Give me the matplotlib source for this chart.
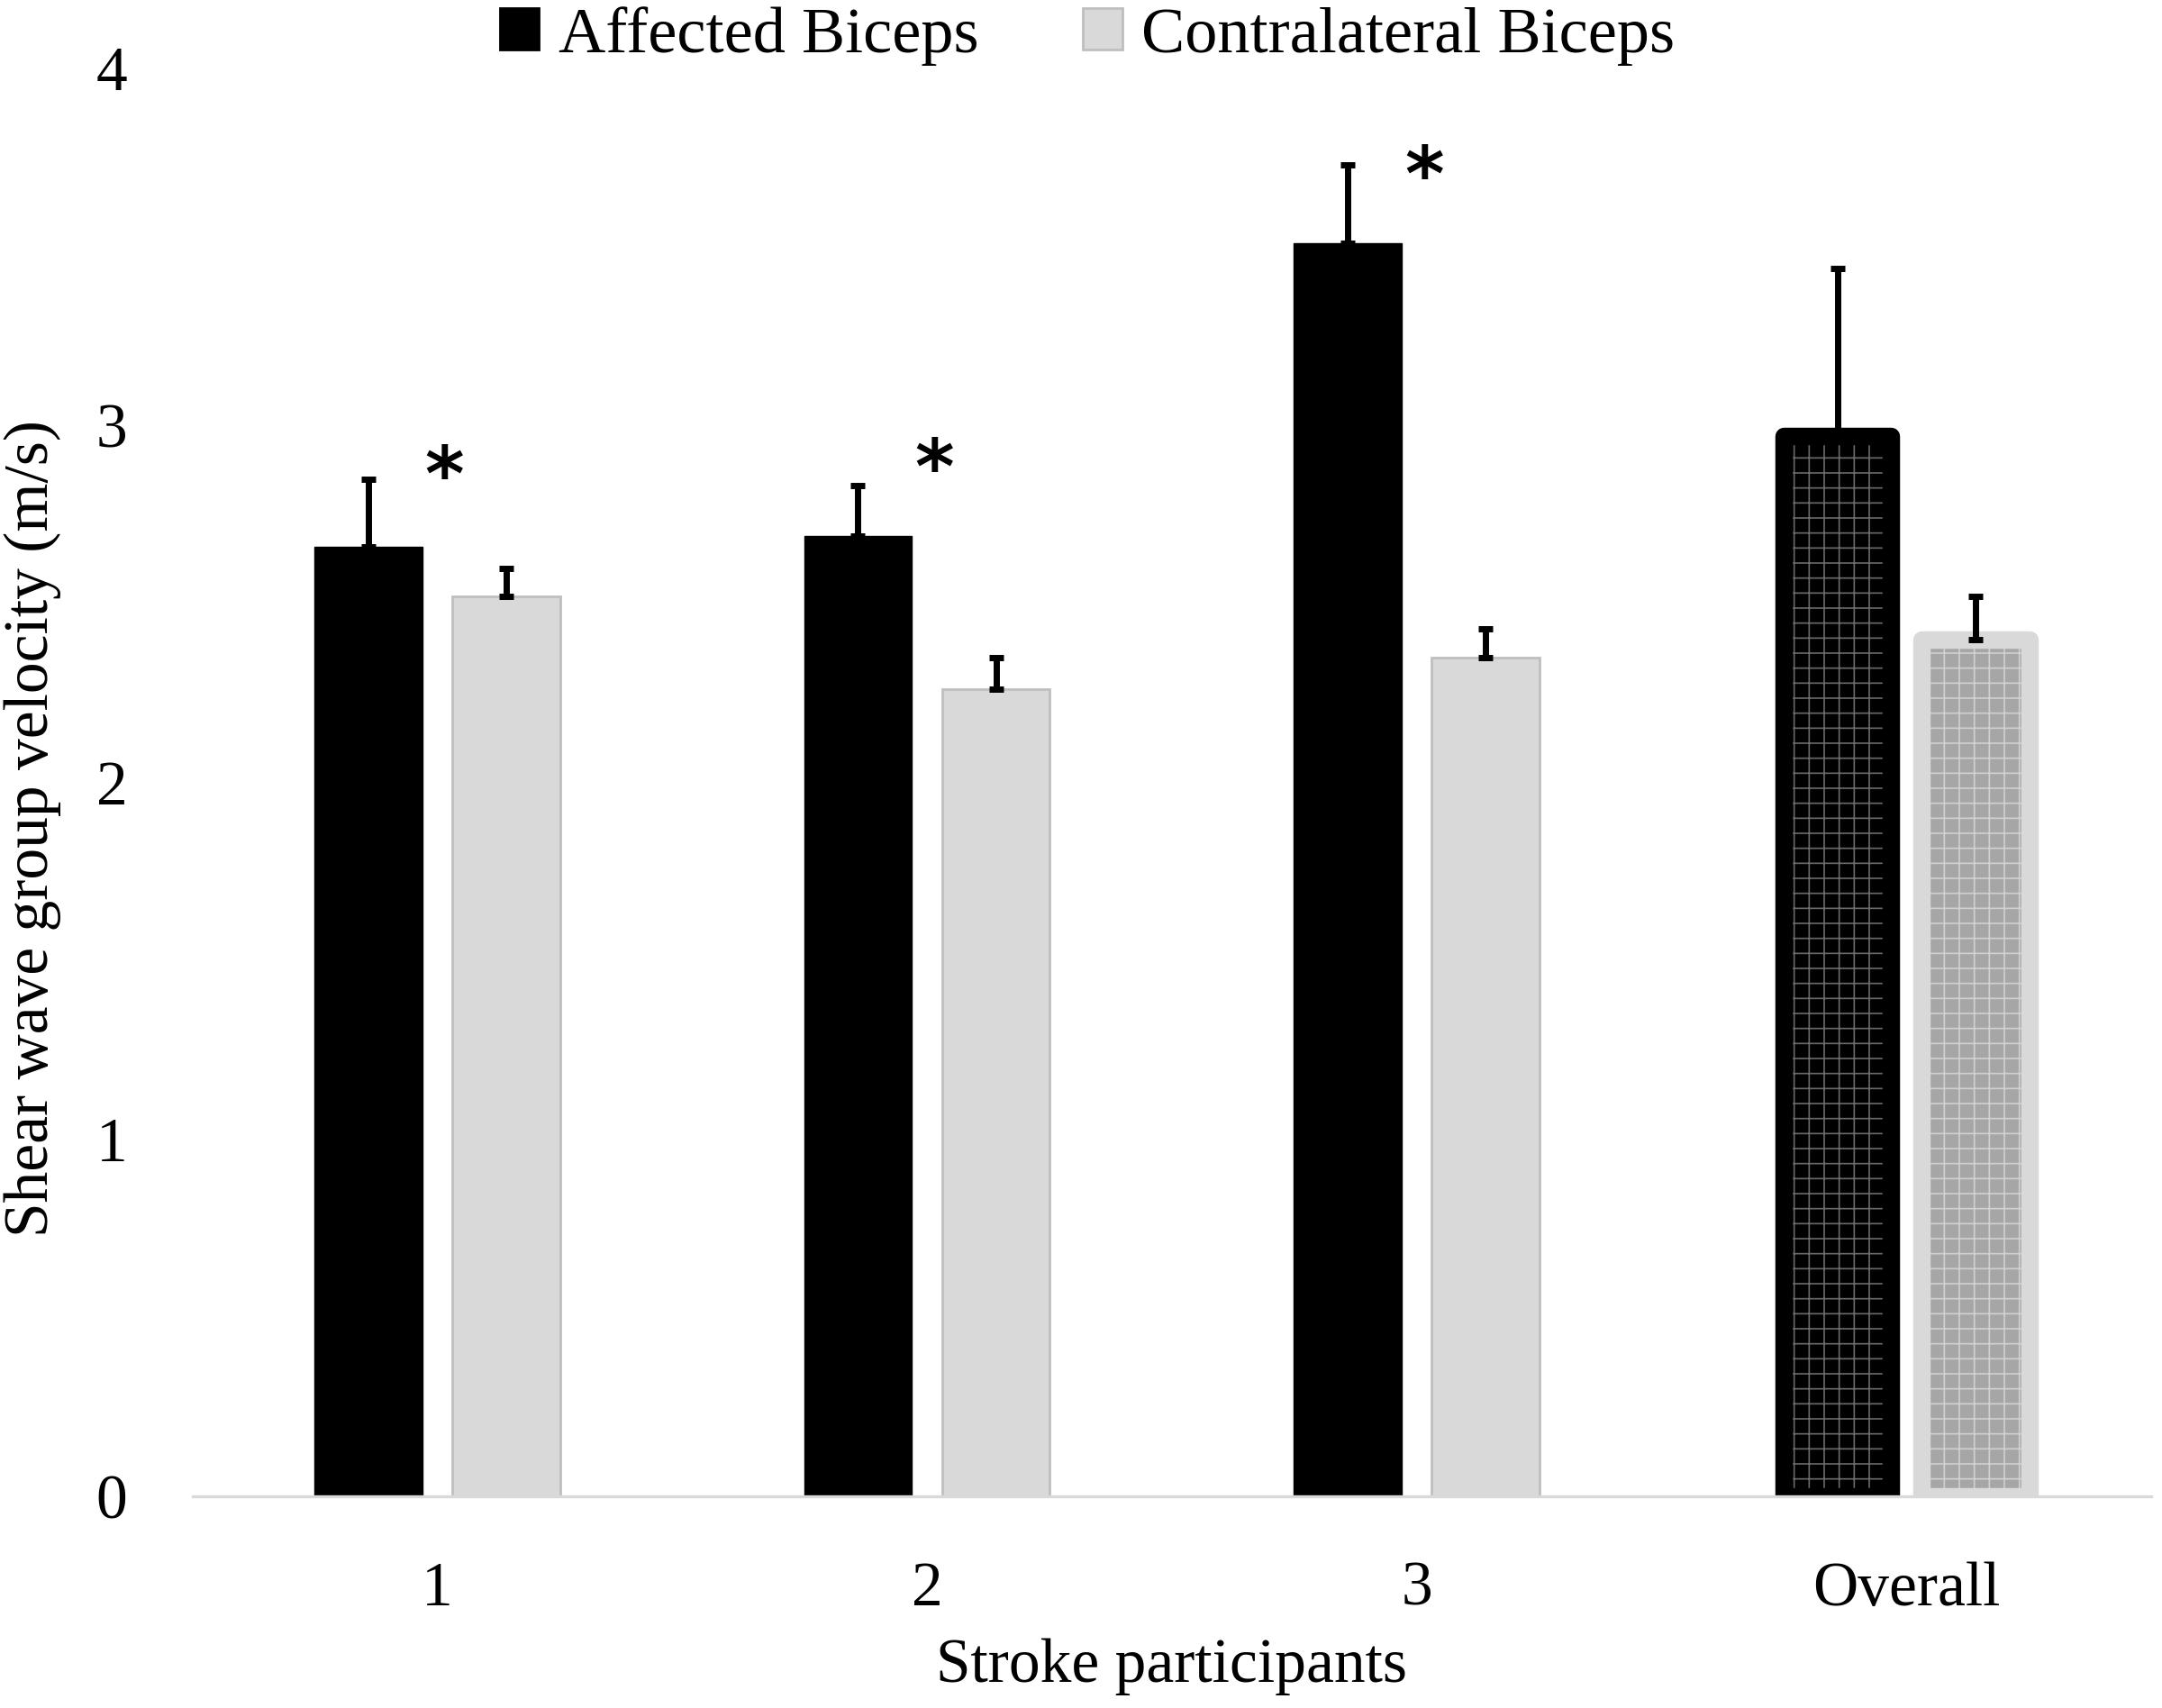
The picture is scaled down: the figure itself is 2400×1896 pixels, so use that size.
import matplotlib
matplotlib.use("Agg")
import matplotlib.pyplot as plt
from matplotlib.patches import Patch
import numpy as np

# data
participants = ["1", "2", "3", "Overall"]
affected = [2.66, 2.69, 3.51, 2.97]
affected_err = [0.19, 0.14, 0.22, 0.47]
contralateral = [2.52, 2.26, 2.35, 2.40]
contralateral_err = [0.08, 0.09, 0.08, 0.12]
significant = [True, True, True, False]
star_y = [2.85, 2.87, 3.69]

plt.rcParams['font.family'] = ['Liberation Serif', 'DejaVu Serif']
plt.rcParams['hatch.linewidth'] = 0.6

fig = plt.figure(figsize=(12, 9.48), dpi=200)
ax = fig.add_axes([0.089, 0.124, 0.906, 0.836])

x = np.arange(len(participants))
w = 0.22
off = 0.141
n = len(participants) - 1  # individual participants

# individual participants: plain bars
ax.bar(x[:n] - off, affected[:n], w, color='black', edgecolor='black', linewidth=0.5)
ax.bar(x[:n] + off, contralateral[:n], w, color='#d9d9d9', edgecolor='#bfbfbf', linewidth=1)

# overall: patterned fill with thick rounded border
ax.bar(x[n] - off, affected[n], w, color='black', edgecolor='#6a6a6a', hatch='++', linewidth=0)
ax.bar(x[n] - off, affected[n], w, color='none', edgecolor='black', linewidth=7, joinstyle='round')
ax.bar(x[n] + off, contralateral[n], w, color='#a6a6a6', edgecolor='#d0d0d0', hatch='++', linewidth=0)
ax.bar(x[n] + off, contralateral[n], w, color='none', edgecolor='#d9d9d9', linewidth=7, joinstyle='round')

# one-sided error bars
ax.errorbar(x - off, affected, yerr=[np.zeros(len(x)), affected_err], fmt='none',
            ecolor='black', elinewidth=2.5, capsize=3, capthick=2.5)
ax.errorbar(x + off, contralateral, yerr=[np.zeros(len(x)), contralateral_err], fmt='none',
            ecolor='black', elinewidth=2.5, capsize=3, capthick=2.5)

for i, ys in enumerate(star_y):
    if significant[i]:
        ax.text(x[i] + 0.015, ys, '*', ha='center', va='center', fontsize=30,
                fontweight='bold', family=['DejaVu Sans'])

ax.set_xlim(-0.5, 3.5)
ax.set_ylim(0, 4)
ax.set_yticks([0, 1, 2, 3, 4])
ax.set_xticks(x)
ax.set_xticklabels(participants)
ax.tick_params(axis='both', length=0, labelsize=25)
ax.tick_params(axis='x', pad=26)
ax.tick_params(axis='y', pad=26)
for s in ['top', 'right', 'left']:
    ax.spines[s].set_visible(False)
ax.spines['bottom'].set_color('#d9d9d9')
ax.spines['bottom'].set_linewidth(1.2)

ax.set_xlabel('Stroke participants', fontsize=25, labelpad=8)
ax.set_ylabel('Shear wave group velocity (m/s)', fontsize=25)
ax.yaxis.set_label_coords(-0.067, 0.468)

handles = [Patch(facecolor='black', edgecolor='black', label='Affected Biceps'),
           Patch(facecolor='#d9d9d9', edgecolor='#bfbfbf', label='Contralateral Biceps')]
fig.legend(handles=handles, loc='center', bbox_to_anchor=(0.503, 0.979), ncol=2,
           frameon=False, fontsize=26, handlelength=0.6, handleheight=0.6,
           handletextpad=0.3, columnspacing=1.6)

fig.savefig('out.png', dpi=200)
